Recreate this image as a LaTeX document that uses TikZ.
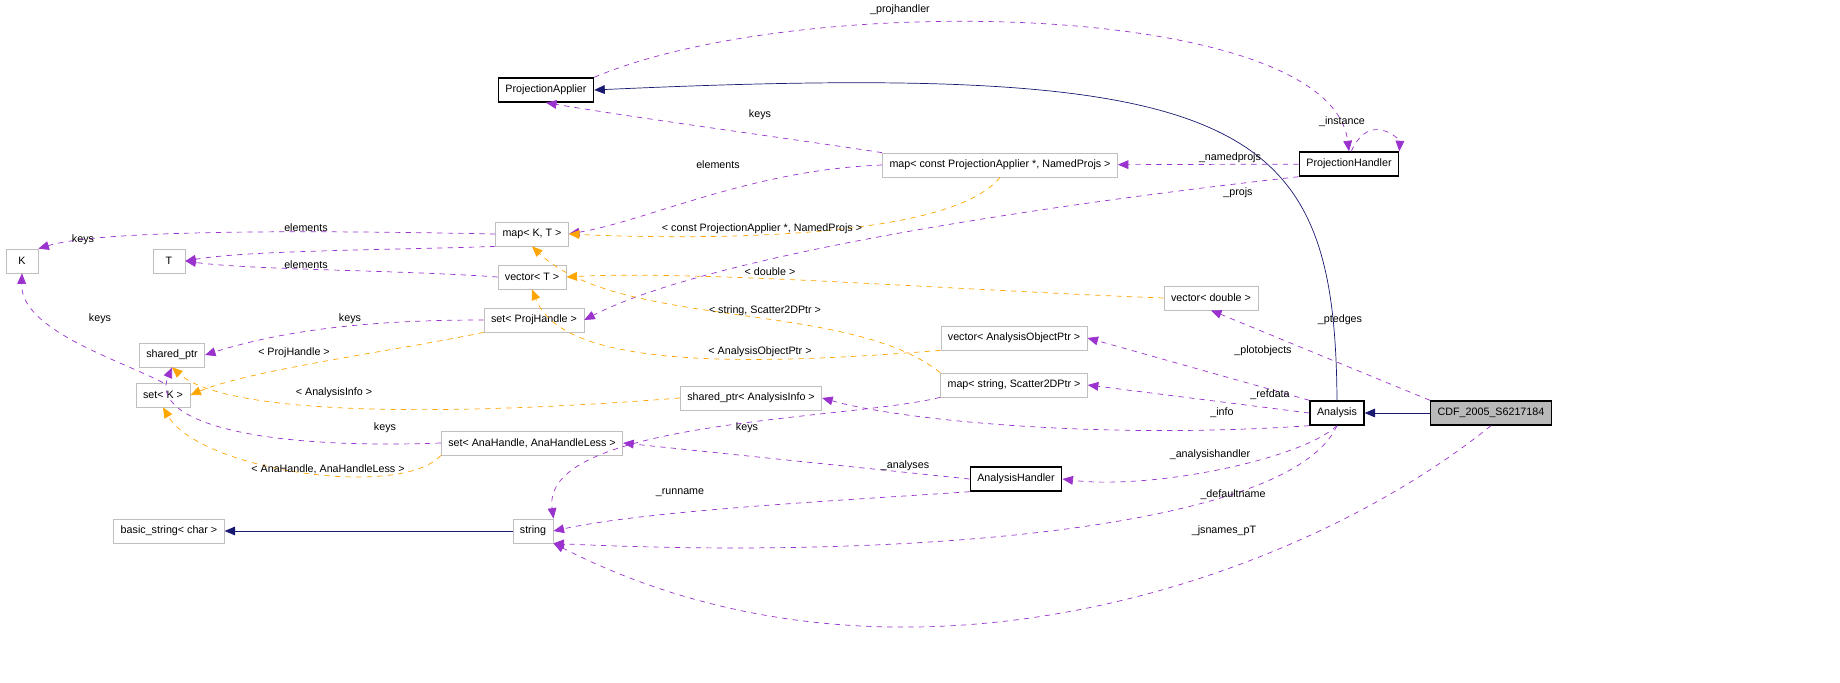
\documentclass[tikz,border=0pt]{standalone}
\usepackage{fontspec}
\setmainfont{Liberation Sans}
\usetikzlibrary{arrows.meta}
\definecolor{usecol}{HTML}{9A32CD}
\definecolor{tplcol}{HTML}{FFA500}
\definecolor{inhcol}{HTML}{191970}
\definecolor{boxgray}{HTML}{BFBFBF}
\begin{document}
\begin{tikzpicture}[x=0.02cm, y=-0.02cm,
    font=\fontsize{6.1}{7}\selectfont,
    cls/.style={draw=boxgray, fill=white, minimum height=0.48cm, minimum width=0.64cm, inner xsep=4pt},
    main/.style={cls, draw=black, thick},
    uses/.style={draw=usecol, dashed, -{Triangle[length=6pt,width=5pt]}},
    tmpl/.style={draw=tplcol, dashed, -{Triangle[length=6pt,width=5pt]}},
    inh/.style={draw=inhcol, -{Triangle[length=6pt,width=5pt]}},
    lbl/.style={inner sep=1pt}]

    \useasboundingbox (0,0) rectangle (1840,683);

    % classes
    \node[main] (pa)  at (546,90)  {ProjectionApplier};
    \node[main] (ph)  at (1349,164) {ProjectionHandler};
    \node[cls]  (mcp) at (1000,165) {map< const ProjectionApplier *, NamedProjs >};
    \node[cls]  (mkt) at (532,234) {map< K, T >};
    \node[cls]  (k)   at (22,261)  {K};
    \node[cls]  (t)   at (169,261) {T};
    \node[cls]  (vt)  at (532,277) {vector< T >};
    \node[cls]  (vd)  at (1211,298) {vector< double >};
    \node[cls]  (sph) at (534,320) {set< ProjHandle >};
    \node[cls]  (sp)  at (172,355) {shared\_ptr};
    \node[cls]  (vao) at (1014,338) {vector< AnalysisObjectPtr >};
    \node[cls]  (sk)  at (163,395) {set< K >};
    \node[cls]  (msc) at (1014,385) {map< string, Scatter2DPtr >};
    \node[cls]  (spa) at (751,398) {shared\_ptr< AnalysisInfo >};
    \node[main] (an)  at (1337,413) {Analysis};
    \node[main, fill=gray!55] (cdf) at (1491,413) {CDF\_2005\_S6217184};
    \node[cls]  (sah) at (532,443) {set< AnaHandle, AnaHandleLess >};
    \node[main] (ah)  at (1016,479) {AnalysisHandler};
    \node[cls]  (bs)  at (169,531) {basic\_string< char >};
    \node[cls]  (str) at (533,531) {string};

    % inheritance
    \draw[inh] (cdf) -- (an);
    \draw[inh] (str) -- (bs);
    \draw[inh] (an.north) .. controls (1335,120) and (1250,60) .. (pa.east);

    % usage
    \draw[uses] (pa.north east) .. controls (800,-10) and (1330,0) .. (ph.north);
    \draw[uses] (ph.80) .. controls (1370,110) and (1400,140) .. (ph.north east);
    \draw[uses] (mcp.north west) .. controls (800,140) and (650,120) .. (pa.south);
    \draw[uses] (ph) -- (mcp);
    \draw[uses] (mcp.west) .. controls (750,170) and (650,220) .. (mkt.east);
    \draw[uses] (ph.south west) .. controls (1000,210) and (700,260) .. (sph.east);
    \draw[uses] (mkt.west) .. controls (300,230) and (100,230) .. (k.north east);
    \draw[uses] (mkt.south west) .. controls (400,250) and (250,250) .. (t.east);
    \draw[uses] (vt.west) .. controls (400,270) and (250,270) .. (t.east);
    \draw[uses] (sph.west) .. controls (400,320) and (300,325) .. (sp.east);
    \draw[uses] (sk.north) .. controls (120,360) and (20,330) .. (k.south);
    \draw[uses] (sah.west) .. controls (250,450) and (150,420) .. (sp.south);
    \draw[uses] (cdf.north west) -- (vd.south);
    \draw[uses] (an.north west) -- (vao.east);
    \draw[uses] (an.west) -- (msc.east);
    \draw[uses] (an.south west) .. controls (1100,440) and (900,420) .. (spa.east);
    \draw[uses] (an.south) .. controls (1300,460) and (1150,490) .. (ah.east);
    \draw[uses] (ah.west) -- (sah.east);
    \draw[uses] (ah.south west) .. controls (850,500) and (650,510) .. (str.east);
    \draw[uses] (an.south) .. controls (1290,530) and (900,560) .. (str.south east);
    \draw[uses] (cdf.south) .. controls (1300,580) and (900,720) .. (str.south east);
    \draw[uses] (msc.south west) .. controls (850,420) and (540,420) .. (str.north east);

    % templates
    \draw[tmpl] (mcp.south) .. controls (950,240) and (700,240) .. (mkt.east);
    \draw[tmpl] (vd.west) .. controls (950,290) and (700,270) .. (vt.east);
    \draw[tmpl] (msc.north west) .. controls (850,300) and (620,330) .. (mkt.south);
    \draw[tmpl] (vao.south west) .. controls (700,370) and (560,360) .. (vt.south);
    \draw[tmpl] (sph.south west) .. controls (400,350) and (250,370) .. (sk.east);
    \draw[tmpl] (spa.west) .. controls (400,420) and (220,410) .. (sp.south);
    \draw[tmpl] (sah.south west) .. controls (400,500) and (200,470) .. (sk.south);

    % labels
    \node[lbl] (l1)  at (900,10)   {\_projhandler};
    \node[lbl] (l2)  at (1342,122) {\_instance};
    \node[lbl] (l3)  at (760,115)  {keys};
    \node[lbl] (l4)  at (718,165)  {elements};
    \node[lbl] (l5)  at (1230,158) {\_namedprojs};
    \node[lbl] (l6)  at (762,229)  {< const ProjectionApplier *, NamedProjs >};
    \node[lbl] (l7)  at (1238,193) {\_projs};
    \node[lbl] (l8)  at (83,240)   {keys};
    \node[lbl] (l9)  at (306,228)  {elements};
    \node[lbl] (l10) at (306,265)  {elements};
    \node[lbl] (l11) at (770,272)  {< double >};
    \node[lbl] (l12) at (765,311)  {< string, Scatter2DPtr >};
    \node[lbl] (l13) at (350,319)  {keys};
    \node[lbl] (l14) at (1340,320) {\_ptedges};
    \node[lbl] (l15) at (294,353)  {< ProjHandle >};
    \node[lbl] (l16) at (760,352)  {< AnalysisObjectPtr >};
    \node[lbl] (l17) at (1263,351) {\_plotobjects};
    \node[lbl] (l18) at (334,393)  {< AnalysisInfo >};
    \node[lbl] (l19) at (1270,395) {\_refdata};
    \node[lbl] (l20) at (100,319)  {keys};
    \node[lbl] (l21) at (1222,413) {\_info};
    \node[lbl] (l22) at (385,428)  {keys};
    \node[lbl] (l23) at (747,428)  {keys};
    \node[lbl] (l24) at (328,469)  {< AnaHandle, AnaHandleLess >};
    \node[lbl] (l25) at (1210,455) {\_analysishandler};
    \node[lbl] (l26) at (905,466)  {\_analyses};
    \node[lbl] (l27) at (680,493)  {\_runname};
    \node[lbl] (l28) at (1233,495) {\_defaultname};
    \node[lbl] (l29) at (1224,531) {\_jsnames\_pT};

\end{tikzpicture}
\end{document}
